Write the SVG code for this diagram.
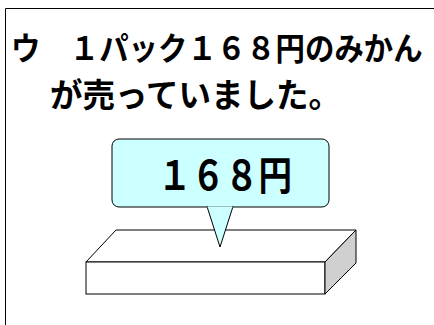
<svg xmlns="http://www.w3.org/2000/svg" width="434" height="325" viewBox="0 0 434 325">
<style>
.t{font-family:"Noto Sans CJK JP","Noto Sans",sans-serif;font-weight:bold;fill:#000}
.ln{stroke:#000;stroke-width:1;fill:none}
</style>
<rect width="434" height="325" fill="#fff"/>
<g id="frame"><path class="ln" d="M5.5,326 V8.5 H435" stroke="#333"/></g>
<g id="title">
<text class="t" transform="translate(11,60) scale(1,1.09)" x="0" y="0" font-size="29.4">ウ　１パック１６８円のみかん</text>
<text class="t" transform="translate(50,107)" x="0" y="0" font-size="32.5">が売っていました。</text>
</g>
<g id="box">
<polygon points="86,262 116,230 356,230 325,262" fill="#fff" stroke="#000"/>
<rect x="86" y="262" width="239" height="32" fill="#fff" stroke="#000"/>
<polygon points="325,262 356,230 356,263 325,294" fill="#d0d0d0" stroke="#000"/>
</g>
<g id="callout">
<rect x="112" y="139" width="217" height="68" rx="7" fill="#ccffff" stroke="#000"/>
<polygon points="207,206.5 233,206.5 220,247" fill="#ccffff" stroke="#000"/>
<line x1="207.5" y1="207" x2="232.5" y2="207" stroke="#ccffff" stroke-width="1.5"/>
<text class="t" transform="translate(158,190) scale(1,1.19)" x="0" y="0" font-size="33.5">１６８円</text>
</g>
</svg>
